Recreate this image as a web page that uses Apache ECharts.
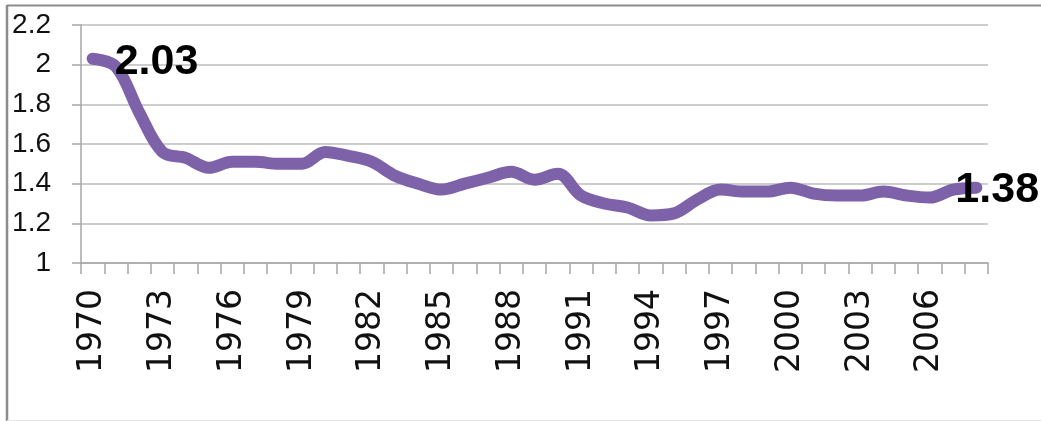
<!DOCTYPE html>
<html>
<head>
<meta charset="utf-8">
<script src="https://cdn.jsdelivr.net/npm/echarts@6/dist/echarts.min.js"></script>
<style>
html,body{margin:0;padding:0;background:#fff;}
#chart{width:1041px;height:421px;}
</style>
</head>
<body>
<div id="chart"></div>
<script>
const years = ['1970','1971','1972','1973','1974','1975','1976','1977','1978','1979',
  '1980','1981','1982','1983','1984','1985','1986','1987','1988','1989',
  '1990','1991','1992','1993','1994','1995','1996','1997','1998','1999',
  '2000','2001','2002','2003','2004','2005','2006','2007','2008'];
const values = [2.03,1.99,1.76,1.56,1.53,1.48,1.51,1.51,1.50,1.50,
  1.56,1.54,1.51,1.44,1.40,1.37,1.40,1.43,1.46,1.42,
  1.45,1.34,1.30,1.28,1.24,1.25,1.32,1.37,1.36,1.36,
  1.38,1.35,1.34,1.34,1.36,1.34,1.33,1.37,1.38];
const yTicks = {min: 1, max: 2.2, step: 0.2};

const last = values.length - 1;
const seriesData = values.map((v, i) => {
  if (i === 0) {
    return {value: v, label: {show: true, position: 'right', distance: 22, offset: [0, 3]}};
  }
  if (i === last) {
    return {value: v, label: {show: true, position: 'right', distance: 0, offset: [-21, 3]}};
  }
  return {value: v};
});

const chart = echarts.init(document.getElementById('chart'));
chart.setOption({
  animation: false,
  backgroundColor: '#ffffff',
  grid: {left: 81, right: 53, top: 25, bottom: 158, containLabel: false, outerBoundsMode: 'none'},
  graphic: [
    {type: 'line', shape: {x1: 7, y1: 5.5, x2: 1041, y2: 5.5}, style: {stroke: '#8c8c8c', lineWidth: 2}},
    {type: 'line', shape: {x1: 7, y1: 5, x2: 7, y2: 421}, style: {stroke: '#8c8c8c', lineWidth: 2.5}},
    {type: 'line', shape: {x1: 7, y1: 420.5, x2: 1041, y2: 420.5}, style: {stroke: '#e6e6e6', lineWidth: 1}}
  ],
  xAxis: {
    type: 'category',
    data: years,
    boundaryGap: true,
    axisLine: {lineStyle: {color: '#a6a6a6', width: 1.5}},
    axisTick: {show: true, interval: 0, length: 11, lineStyle: {color: '#a6a6a6', width: 1.5}},
    axisLabel: {
      interval: 2, rotate: 90, margin: 26,
      textStyle: {fontFamily: 'DejaVu Sans', fontSize: 33},
      fontFamily: 'DejaVu Sans', fontSize: 33, color: '#111'
    },
    splitLine: {show: false}
  },
  yAxis: {
    type: 'value',
    min: yTicks.min, max: yTicks.max, interval: yTicks.step,
    axisLine: {show: true, lineStyle: {color: '#a6a6a6', width: 1.5}},
    axisTick: {show: true, length: 9, lineStyle: {color: '#a6a6a6', width: 1.5}},
    axisLabel: {
      margin: 30, fontFamily: 'Liberation Sans', fontSize: 28, color: '#111',
      formatter: v => String(Math.round(v * 10) / 10)
    },
    splitLine: {show: true, lineStyle: {color: '#bdbdbd', width: 1.5}}
  },
  series: [{
    type: 'line',
    data: seriesData,
    smooth: 0.35,
    symbol: 'circle',
    symbolSize: 0,
    showSymbol: true,
    lineStyle: {color: '#7d62aa', width: 12, cap: 'round', join: 'round'},
    itemStyle: {color: '#7d62aa'},
    label: {
      show: false,
      fontFamily: 'Liberation Sans', fontWeight: 'bold', fontSize: 43, color: '#000'
    },
    z: 3
  }]
});
</script>
</body>
</html>
